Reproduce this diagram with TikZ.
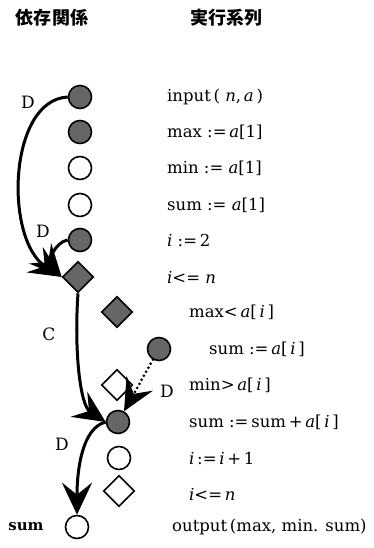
\documentclass[tikz,border=0pt]{standalone}
\usepackage{fontspec}
\setmainfont{DejaVu Serif}
\newfontfamily\jpfont{Noto Sans CJK JP}
\usepackage{tikz}
\usetikzlibrary{arrows.meta,shapes.geometric}

\tikzset{
  fullcirc/.style={circle,draw,line width=1.6pt,fill=black!60,minimum size=23pt,inner sep=0pt},
  opencirc/.style={circle,draw,line width=1.6pt,fill=white,minimum size=23pt,inner sep=0pt},
  fulldia/.style={diamond,draw,line width=1.6pt,fill=black!60,minimum width=31pt,minimum height=31pt,inner sep=0pt},
  opendia/.style={diamond,draw,line width=1.6pt,fill=white,minimum width=31pt,minimum height=31pt,inner sep=0pt},
  stmt/.style={anchor=west,inner sep=0pt,font=\fontsize{16.5}{18}\selectfont},
  lbl/.style={inner sep=0pt,font=\fontsize{17}{19}\selectfont},
  dep/.style={line width=3pt,-{Stealth[length=32pt,width=30pt,inset=12pt]}}
}

\begin{document}
\begin{tikzpicture}[x=1pt,y=-1pt]
\useasboundingbox (0,0) rectangle (374,548);
\node[font=\jpfont\bfseries\fontsize{18}{20}\selectfont] (hdep) at (52,18) {依存関係};
\node[font=\jpfont\bfseries\fontsize{18}{20}\selectfont] (hseq) at (226,18) {実行系列};

\node[fullcirc] (in1) at (80,97) {};
\node[fullcirc] (mx1) at (80,132) {};
\node[opencirc] (mn1) at (80,168) {};
\node[opencirc] (sm1) at (80,205) {};
\node[fullcirc] (i1) at (80,240) {};
\node[fulldia] (lp1) at (78,277) {};
\node[fulldia] (mx2) at (117,312) {};
\node[fullcirc] (sm2) at (159,349) {};
\node[opendia] (mn2) at (117,385) {};
\node[fullcirc] (sm3) at (118,422) {};
\node[opencirc] (i2) at (119,458) {};
\node[opendia] (lp2) at (119,491) {};
\node[opencirc] (out) at (77,527) {};

\node[stmt] (tin1) at (167,97) {input\,(\ \textit{n},\,\textit{a}\,)};
\node[stmt] (tmx1) at (167,132) {max\ :=\,\textit{a}[1]};
\node[stmt] (tmn1) at (167,168) {min\ :=\ \textit{a}[1]};
\node[stmt] (tsm1) at (167,205) {sum\ :=\ \textit{a}[1]};
\node[stmt] (ti1) at (167,240) {\textit{i}\ :=\,2};
\node[stmt] (tlp1) at (167,277) {\textit{i}<=\ \textit{n}};
\node[stmt] (tmx2) at (189,312) {max<\,\textit{a}[\,\textit{i}\,]};
\node[stmt] (tsm2) at (209,349) {sum\ :=\,\textit{a}[\,\textit{i}\,]};
\node[stmt] (tmn2) at (189,385) {min>\,\textit{a}[\,\textit{i}\,]};
\node[stmt] (tsm3) at (189,422) {sum\ :=\,sum\,+\,\textit{a}[\,\textit{i}\,]};
\node[stmt] (ti2) at (189,458) {\textit{i}\,:=\,\textit{i}\,+\,1};
\node[stmt] (tlp2) at (189,494) {\textit{i}<=\,\textit{n}};
\node[stmt] (tout) at (172,527) {output\,(max, min. sum)};

\draw[dep] (in1.west) .. controls (8,100) and (4,240) .. (lp1.west);
\draw[dep] (i1.west) .. controls (55,242) and (48,262) .. (lp1.west);
\draw[dep] (lp1.south) .. controls (74,350) and (80,405) .. (sm3.west);
\draw[dep,line cap=round,dash pattern=on 0pt off 4.6pt] (sm2) -- (sm3);
\draw[dep] (sm3.west) .. controls (82,428) and (77,470) .. (out.north);

\node[lbl] (d1) at (28,102) {D};
\node[lbl] (d2) at (43,231) {D};
\node[lbl] (c1) at (49,334) {C};
\node[lbl] (d3) at (167,391) {D};
\node[lbl] (d4) at (62,444) {D};
\node[lbl,font=\bfseries\fontsize{15}{17}\selectfont] (lsum) at (26,527) {sum};
\end{tikzpicture}
\end{document}
